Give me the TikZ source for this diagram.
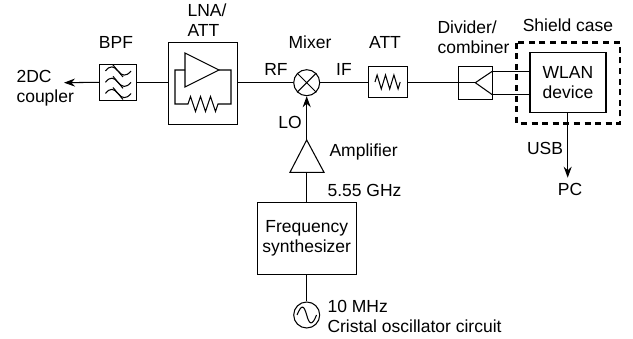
\documentclass[tikz,border=0pt]{standalone}
\usepackage{fontspec}
\setmainfont{Liberation Sans}
\usetikzlibrary{arrows.meta}

\begin{document}
\begin{tikzpicture}[
    x=1pt, y=-1pt,
    line width=1.05pt,
    block/.style={draw, rectangle, inner sep=0pt, align=center},
    port/.style={draw, circle, inner sep=0pt, minimum size=26pt},
    lbl/.style={inner sep=0pt, align=center},
    lbll/.style={inner sep=0pt, align=left, anchor=west},
    >={Stealth[length=11pt, width=8pt]},
    font=\fontsize{17.5}{20}\selectfont
]
    \useasboundingbox (0,0) rectangle (633,339);

    % blocks of the receive chain
    \node[block, minimum width=37.5pt, minimum height=36.5pt] (BPF) at (118.2,82.3) {};
    \node[block, minimum width=69pt, minimum height=82pt] (LNA) at (203,83.5) {};
    \node[port] (MIX) at (306.7,82.7) {};
    \node[block, minimum width=38.6pt, minimum height=30.6pt] (ATT) at (388,82) {};
    \node[block, minimum width=34pt, minimum height=33.3pt] (DIV) at (475.7,82.7) {};
    \node[block, minimum width=76pt, minimum height=60.4pt] (WLAN) at (568,82.5) {WLAN\\device};
    \node[block, minimum width=98.7pt, minimum height=71.7pt] (SYN) at (306.7,238.2) {Frequency\\synthesizer};
    \node[port] (OSC) at (306.7,315) {};

    % shield case
    \draw[line width=2.6pt, dash pattern=on 6pt off 4.6pt] (516.7,42.7) rectangle (620,123.3);

    % mixer cross and oscillator wave
    \draw (MIX.45) -- (MIX.225) (MIX.135) -- (MIX.315);
    \draw (297,315) .. controls (302,303) and (304,306) .. (306.7,315)
                    .. controls (309,324) and (312,327) .. (316.5,315);

    % free ends
    \coordinate (CPL) at (64,82.7);
    \coordinate (PC) at (567.7,177.7);

    % connectors
    \draw[->] (BPF.west) -- (CPL);
    \draw (BPF.east) -- (LNA.west |- BPF.east);
    \draw (LNA.east |- MIX.west) -- (MIX.west);
    \draw (MIX.east) -- (ATT.west |- MIX.east);
    \draw (ATT.east |- MIX.east) -- (475.3,82.7);
    \draw[->] (306.7,140) -- (MIX.south);
    \draw (SYN.north) -- (306.7,172.3);
    \draw (SYN.south) -- (OSC.north);
    \draw (DIV.east |- 0,71.7) -- (WLAN.west |- 0,71.7);
    \draw (DIV.east |- 0,94.3) -- (WLAN.west |- 0,94.3);
    \draw[->] (WLAN.south -| PC) -- (PC);

    % amplifiers and divider triangle
    \draw (185,53) -- (219,70) -- (185,87) -- cycle;
    \draw (306.7,140) -- (324,172.3) -- (290,172.3) -- cycle;
    \draw (492.7,71) -- (475.3,82.7) -- (492.7,95);

    % feedback loop with attenuator
    \draw (185,70) -- (175,70) -- (175,104) -- (188,104) -- ++(2.5,-7.5) -- ++(5,15) -- ++(5,-15)
          -- ++(5,15) -- ++(5,-15) -- ++(5,15) -- ++(2.5,-7.5) -- (231,104) -- (231,70) -- (219,70);

    % ATT resistor
    \draw (375,82) -- ++(2.1,-7) -- ++(4.2,14) -- ++(4.2,-14) -- ++(4.2,14) -- ++(4.2,-14)
          -- ++(4.2,14) -- ++(2.1,-7);

    % BPF waves
    \foreach \y in {71,82.3,93.5} {
        \draw (105.5,\y) .. controls (110,\y-6) and (114,\y-5) .. (118,\y)
                         .. controls (122,\y+5) and (126,\y+6) .. (131,\y);
        \draw (113,\y-6) -- (123,\y+6);
    }

    % labels
    \node[lbl] (tBPF) at (116,42) {BPF};
    \node[lbll] (tLNA) at (187,20.5) {LNA/\\ATT};
    \node[lbll] (tCPL) at (16,88) {2DC\\coupler};
    \node[lbl] (tMIX) at (310,42) {Mixer};
    \node[lbl] (tRF) at (276,69) {RF};
    \node[lbl] (tIF) at (344,69) {IF};
    \node[lbl] (tATT) at (385,42) {ATT};
    \node[lbl] (tLO) at (290,122) {LO};
    \node[lbll] (tDIV) at (437,37.5) {Divider/\\combiner};
    \node[lbl] (tSHD) at (568,25) {Shield case};
    \node[lbl] (tUSB) at (545,148) {USB};
    \node[lbl] (tPC) at (570,189) {PC};
    \node[lbll] (tAMP) at (329,152) {Amplifier};
    \node[lbll] (tGHZ) at (327,190) {5.55 GHz};
    \node[lbll] (tOSC) at (327,316) {10 MHz\\Cristal oscillator circuit};
\end{tikzpicture}
\end{document}
